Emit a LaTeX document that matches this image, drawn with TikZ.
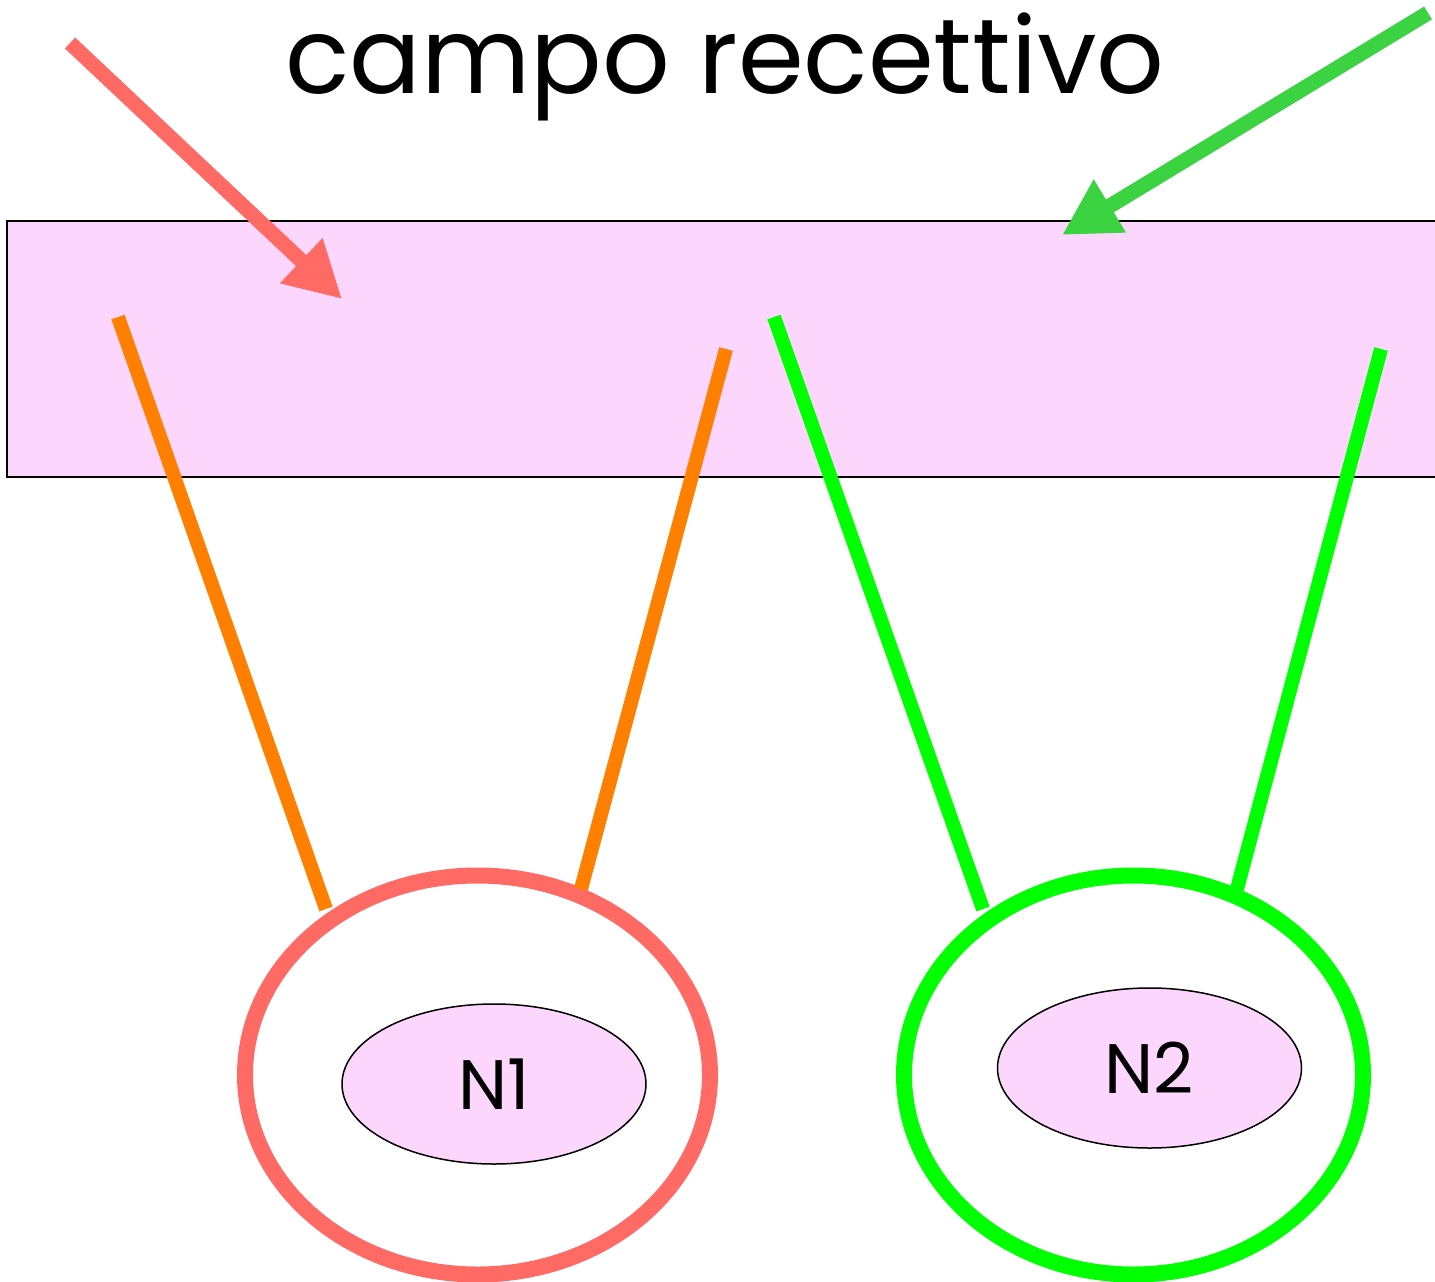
\documentclass[tikz,border=0pt]{standalone}
\usepackage{fontspec}
\setmainfont{Poppins}
\usetikzlibrary{arrows.meta,shapes.geometric}
\definecolor{pinkfill}{RGB}{253,214,253}
\definecolor{redarr}{RGB}{255,106,100}
\definecolor{orangeline}{RGB}{255,128,0}
\definecolor{greenline}{RGB}{0,255,0}
\definecolor{greenarr}{RGB}{60,211,67}
\tikzset{
  field/.style={draw=black, line width=1.5pt, fill=pinkfill},
  bigarrow/.style={line width=15pt, -{Triangle[length=56pt,width=58pt]}, shorten >=0pt},
  dendrite/.style={line width=14pt},
  cellbody/.style={ellipse, draw, line width=16pt, fill=white, inner sep=0pt, minimum width=#1, minimum height=399pt},
  nucleus/.style={ellipse, draw=black, line width=1.5pt, fill=pinkfill, inner sep=0pt, minimum width=304pt, minimum height=160pt, font=\fontsize{70}{72}\selectfont},
}
\begin{document}
\begin{tikzpicture}[x=1pt,y=-1pt]
\clip (0,0) rectangle (1435,1282);
\fill[white] (0,0) rectangle (1435,1282);
% receptive field
\node[field, anchor=north west, minimum width=1450pt, minimum height=256pt, inner sep=0pt] (rf) at (6,220) {};
% title
\node[anchor=base, inner sep=0pt, font=\fontsize{106}{110}\selectfont] (title) at (725,93) {campo recettivo};
% arrows
\coordinate (ra1) at (70,43);
\coordinate (ra2) at (342,299);
\draw[bigarrow, draw=redarr, fill=redarr] (ra1) -- (ra2);
\coordinate (ga1) at (1428,13);
\coordinate (ga2) at (1062,235);
\draw[bigarrow, draw=greenarr, fill=greenarr] (ga1) -- (ga2);
% cell bodies
\node[cellbody=465pt, draw=redarr] (c1) at (477.5,1075) {};
\node[cellbody=459pt, draw=greenline] (c2) at (1133.5,1075) {};
\node[nucleus] (n1) at (494,1084) {\raisebox{-4pt}{N1}};
\node[nucleus] (n2) at (1149.5,1068) {\raisebox{-3pt}{N2}};
% dendrites
\coordinate (o1a) at (118,317);
\coordinate (o1b) at (326,909);
\coordinate (o2a) at (726,349);
\coordinate (o2b) at (581,889);
\coordinate (g1a) at (774,317);
\coordinate (g1b) at (983,909);
\coordinate (g2a) at (1381,349);
\coordinate (g2b) at (1237,889);
\draw[dendrite, orangeline] (o1a) -- (o1b);
\draw[dendrite, orangeline] (o2a) -- (o2b);
\draw[dendrite, greenline] (g1a) -- (g1b);
\draw[dendrite, greenline] (g2a) -- (g2b);
\end{tikzpicture}
\end{document}
